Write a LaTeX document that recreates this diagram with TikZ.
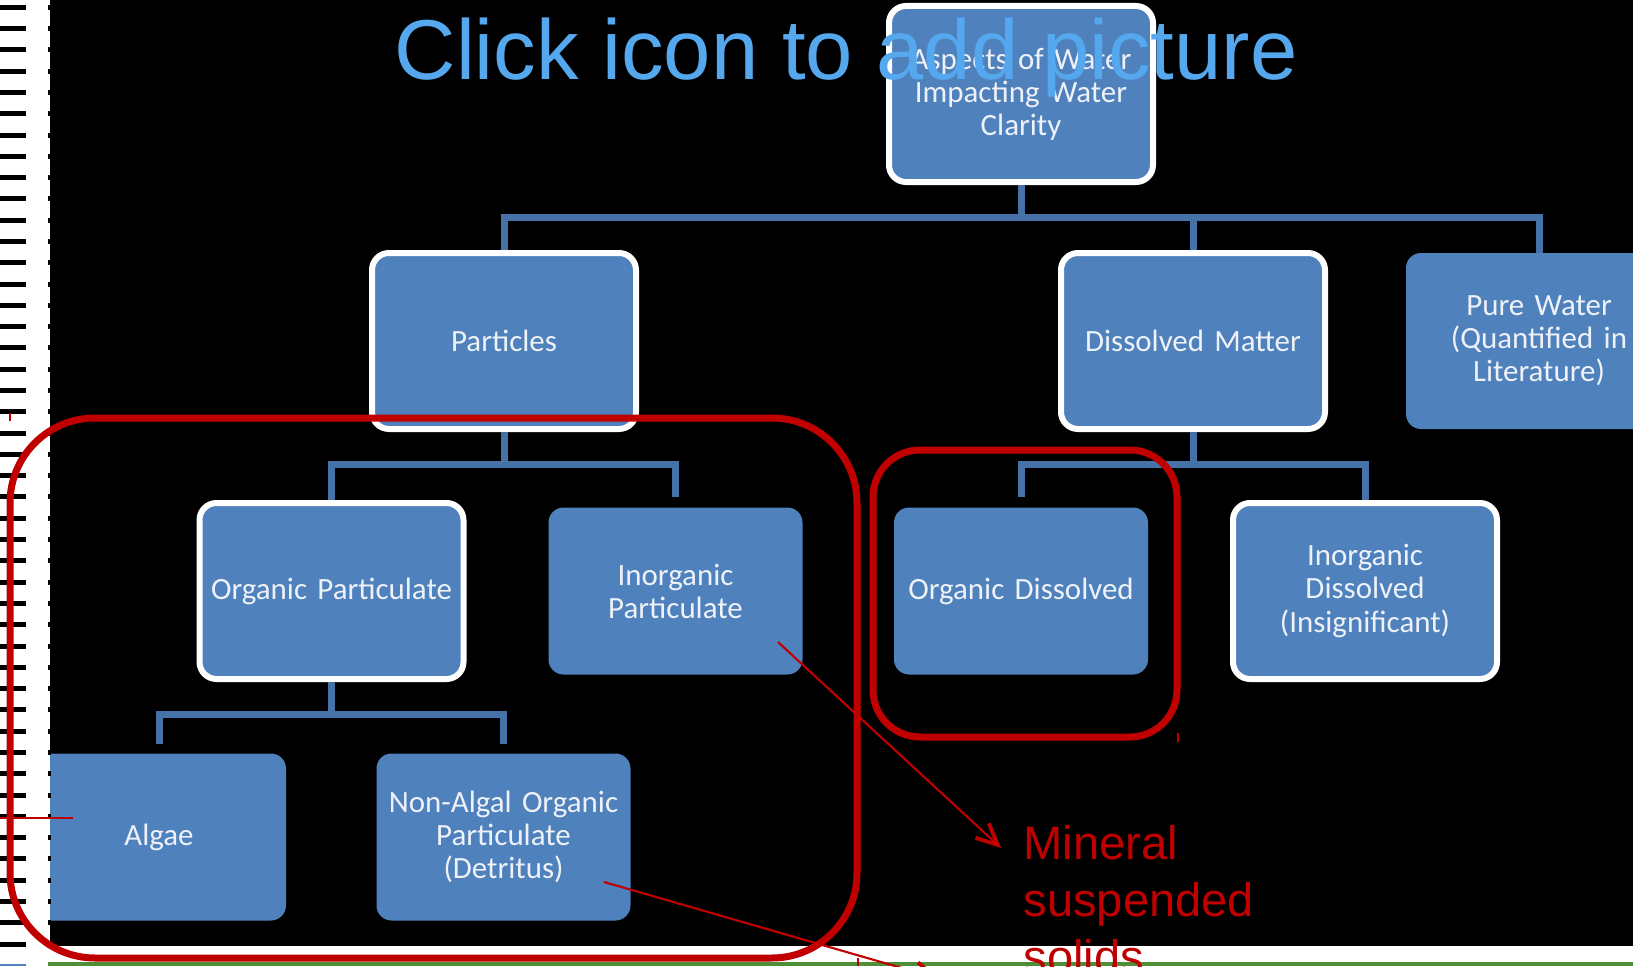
\documentclass[tikz,border=0pt]{standalone}
\usepackage{fontspec}
\setmainfont{Carlito}
\newfontfamily\arialfont{Liberation Sans}
\usetikzlibrary{positioning}
\usetikzlibrary{arrows.meta}

\definecolor{boxblue}{RGB}{79,129,189}
\definecolor{linkblue}{RGB}{70,114,168}
\definecolor{boxtext}{RGB}{238,242,248}
\definecolor{markred}{RGB}{192,0,0}
\definecolor{hintblue}{RGB}{85,168,238}
\definecolor{rulegreen}{RGB}{77,142,55}

\tikzstyle{boxW} = [fill=boxblue, draw=white, line width=0.06cm, rounded corners=0.17cm, minimum width=2.64cm, minimum height=1.76cm, inner sep=0pt, text width=2.5cm, align=center, text=boxtext, font=\fontsize{8.8}{9.4}\selectfont]
\tikzstyle{boxB} = [boxW, draw=none, outer sep=0pt, rounded corners=0.15cm, minimum width=2.54cm, minimum height=1.67cm]
\tikzstyle{conn} = [draw=linkblue, line width=0.07cm]
\tikzstyle{ring} = [draw=markred, line width=0.07cm]
\tikzstyle{arrow} = [draw=markred, line width=0.6pt, -{Straight Barb[length=6pt, width=5.6pt, line width=1.1pt]}]

\begin{document}
\begin{tikzpicture}[node distance=2.5cm, auto]
    \useasboundingbox (0,0) rectangle (16.33,9.66);
    \clip (0,0) rectangle (16.33,9.66);
    \fill [white] (0,0) rectangle (16.33,9.66);
    \fill [black] (0.50,0.20) rectangle (16.33,9.66);

    \node [boxW] (aspects) at (10.21,8.72) {Aspects of Water\\Impacting Water\\Clarity};
    \node [boxW, below of=aspects, node distance=2.47cm, xshift=-5.17cm] (particles) {Particles};
    \node [boxW, right of=particles, node distance=6.89cm] (dissolved) {Dissolved Matter};
    \node [boxB, right of=dissolved, node distance=3.46cm, minimum width=2.66cm, minimum height=1.76cm] (purewater) {Pure Water\\(Quantified in\\Literature)};
    \node [boxW, below of=particles, node distance=2.50cm, xshift=-1.725cm] (orgpart) {Organic Particulate};
    \node [boxB, right of=orgpart, node distance=3.44cm] (inorgpart) {Inorganic\\Particulate};
    \node [boxB, below of=dissolved, node distance=2.50cm, xshift=-1.72cm] (orgdiss) {Organic Dissolved};
    \node [boxW, right of=orgdiss, node distance=3.44cm] (inorgdiss) {Inorganic\\Dissolved\\(Insignificant)};
    \node [boxB, below of=orgpart, node distance=2.46cm, xshift=-1.725cm] (algae) {Algae};
    \node [boxB, right of=algae, node distance=3.445cm] (nonalgal) {Non-Algal Organic\\Particulate\\(Detritus)};

    \draw [conn] (aspects.south) -- ++(0,-0.32) coordinate (bar1);
    \draw [conn] (particles.north) -- (particles.north |- bar1) -- (purewater.north |- bar1) -- (purewater.north);
    \draw [conn] (dissolved.north |- bar1) -- (dissolved.north);
    \draw [conn] (particles.south) -- ++(0,-0.32) coordinate (bar2);
    \draw [conn, shorten >=0.11cm] (orgpart.north) -- (orgpart.north |- bar2) -- (inorgpart.north |- bar2) -- (inorgpart.north);
    \draw [conn] (dissolved.south) -- ++(0,-0.32) coordinate (bar3);
    \draw [conn, shorten <=0.11cm] (orgdiss.north) -- (orgdiss.north |- bar3) -- (inorgdiss.north |- bar3) -- (inorgdiss.north);
    \draw [conn] (orgpart.south) -- ++(0,-0.32) coordinate (bar4);
    \draw [conn, shorten <=0.1cm, shorten >=0.1cm] (algae.north) -- (algae.north |- bar4) -- (nonalgal.north |- bar4) -- (nonalgal.north);

    % page edges
    \fill [white] (0,0) rectangle (0.50,9.66);
    \fill [white] (0,0) rectangle (16.33,0.20);
    \foreach \i in {0,...,44} {
        \fill [black] (0,{9.66-0.073-0.2129*\i-0.025}) rectangle ++(0.26,0.05);
        \fill [black] (0.475,{9.66-0.073-0.2129*\i-0.025}) rectangle ++(0.03,0.05);
    }
    \fill [rulegreen] (0.48,0) rectangle (16.33,0.04);
    \draw [boxblue, line width=0.6pt] (0,0.01) -- (0.26,0.01);

    \node [anchor=base west, inner sep=0pt, text=hintblue, font=\arialfont\fontsize{24.2}{29}\selectfont] (hint) at (3.94,8.86) {Click icon to add picture};

    \draw [ring, rounded corners=0.85cm] (0.10,0.08) rectangle (8.57,5.48);
    \draw [ring, rounded corners=0.47cm] (8.73,2.29) rectangle (11.77,5.16);
    \draw [markred, line width=0.3pt] (0.10,5.45) -- (0.10,5.53);
    \draw [markred, line width=0.3pt] (11.78,2.24) -- (11.78,2.33);
    \draw [markred, line width=0.3pt] (8.58,0) -- (8.58,0.08);
    \draw [markred, line width=0.6pt] (0,1.48) -- (0.73,1.48);

    % base is the last line here
    \node [anchor=base west, inner sep=0pt, text=markred, align=left, font=\arialfont\fontsize{13.4}{16.2}\selectfont] (mineral) at (10.23,-0.07) {Mineral\\suspended\\solids};
    \coordinate (tipA) at (10.01,1.18);
    \coordinate (tipB) at (9.40,-0.13);
    \coordinate (fromA) at (7.78,3.24);
    \coordinate (fromB) at (6.04,0.84);
    \draw [arrow] (fromA) -- (tipA);
    \draw [arrow] (fromB) -- (tipB);
\end{tikzpicture}
\end{document}
